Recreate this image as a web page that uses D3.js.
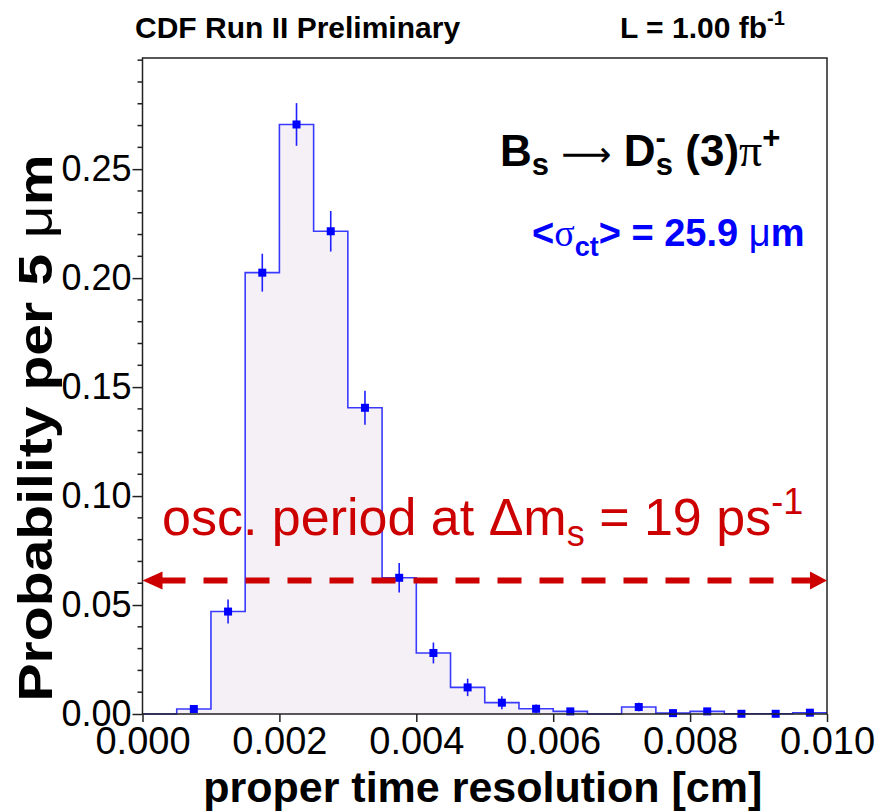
<!DOCTYPE html>
<html>
<head>
<meta charset="utf-8">
<script src="https://cdn.jsdelivr.net/npm/d3@7"></script>
<style>
  body { margin: 0; background: #fff; }
  text { font-family: "Liberation Sans", Arial, Helvetica, sans-serif; }
</style>
</head>
<body>
<div id="chart"></div>
<script>
// bins of 5 um (0.0005 cm) from 0 to 0.01 cm
var binStart = [0.0000, 0.0005, 0.0010, 0.0015, 0.0020, 0.0025, 0.0030, 0.0035, 0.0040, 0.0045,
                0.0050, 0.0055, 0.0060, 0.0065, 0.0070, 0.0075, 0.0080, 0.0085, 0.0090, 0.0095];
var binWidth = 0.0005;
var probability = [0, 0.0023, 0.047, 0.2025, 0.2705, 0.2215, 0.1405, 0.0625, 0.0280, 0.0122,
                   0.0052, 0.0024, 0.0012, 0, 0.0032, 0.0004, 0.0012, 0.0001, 0.0001, 0.0006];
var probError = [0, 0.0016, 0.0055, 0.0087, 0.0098, 0.0093, 0.0078, 0.0068, 0.0048, 0.0040,
                 0.0030, 0.0020, 0.0015, 0, 0.0020, 0.0010, 0.0015, 0.0008, 0.0008, 0.0010];
var xTicks = [0.000, 0.002, 0.004, 0.006, 0.008, 0.010];
var yTicks = [0.00, 0.05, 0.10, 0.15, 0.20, 0.25];
var yMinor = [0.01, 0.02, 0.03, 0.04, 0.06, 0.07, 0.08, 0.09, 0.11, 0.12, 0.13, 0.14,
              0.16, 0.17, 0.18, 0.19, 0.21, 0.22, 0.23, 0.24, 0.26, 0.27, 0.28, 0.29, 0.30];
var arrowLevel = 0.0612;

var W = 875, H = 811;
var margin = {top: 58, right: 48, bottom: 97, left: 142.5};

var svg = d3.select("#chart").append("svg")
    .attr("width", W).attr("height", H);

var x = d3.scaleLinear().domain([0, 0.01]).range([margin.left, W - margin.right]);
var y = d3.scaleLinear().domain([0, 0.301]).range([H - margin.bottom, margin.top]);

var bins = binStart.map(function(d, i) {
  return {x0: d, x1: d + binWidth, v: probability[i], e: probError[i]};
});

// histogram step outline
var pts = [[0, 0]];
bins.forEach(function(b) { pts.push([b.x0, b.v]); pts.push([b.x1, b.v]); });
pts.push([0.01, 0]);

var line = d3.line().x(function(d) { return x(d[0]); }).y(function(d) { return y(d[1]); });

svg.append("path")
  .attr("d", line(pts) + "Z")
  .attr("fill", "#f5f0f5")
  .attr("stroke", "none");

svg.append("path")
  .attr("d", line(pts.slice(1, pts.length - 1)))
  .attr("fill", "none")
  .attr("stroke", "#3a3aff")
  .attr("stroke-width", 1.6);

// error bars + markers
var pts2 = bins.filter(function(b) { return b.v > 0; });
svg.selectAll("line.err").data(pts2).enter().append("line")
  .attr("class", "err")
  .attr("x1", function(d) { return x((d.x0 + d.x1) / 2); })
  .attr("x2", function(d) { return x((d.x0 + d.x1) / 2); })
  .attr("y1", function(d) { return y(d.v + d.e); })
  .attr("y2", function(d) { return y(Math.max(d.v - d.e, 0)); })
  .attr("stroke", "#2020ff")
  .attr("stroke-width", 1.6);

svg.selectAll("rect.mk").data(pts2).enter().append("rect")
  .attr("class", "mk")
  .attr("x", function(d) { return x((d.x0 + d.x1) / 2) - 4; })
  .attr("y", function(d) { return y(d.v) - 4; })
  .attr("width", 8).attr("height", 8)
  .attr("fill", "#0000ff");

// frame
svg.append("rect")
  .attr("x", x(0)).attr("y", y(0.301))
  .attr("width", x(0.01) - x(0)).attr("height", y(0) - y(0.301))
  .attr("fill", "none").attr("stroke", "#222").attr("stroke-width", 1.5);

// y axis
var yAxis = svg.append("g").attr("transform", "translate(" + x(0) + ",0)")
  .call(d3.axisLeft(y).tickValues(yTicks).tickSize(10).tickFormat(d3.format(".2f")));
yAxis.select(".domain").remove();
yAxis.selectAll("text").attr("font-size", 36).attr("font-family", "Liberation Sans, Arial, sans-serif")
  .attr("fill", "#000").attr("x", -11);
yAxis.selectAll(".tick line").attr("stroke", "#222").attr("stroke-width", 1.5);

svg.append("g").selectAll("line").data(yMinor).enter().append("line")
  .attr("x1", x(0) - 5).attr("x2", x(0))
  .attr("y1", function(d) { return y(d); }).attr("y2", function(d) { return y(d); })
  .attr("stroke", "#222").attr("stroke-width", 1.5);

// x axis
var xAxis = svg.append("g").attr("transform", "translate(0," + y(0) + ")")
  .call(d3.axisBottom(x).tickValues(xTicks).tickSize(8).tickFormat(d3.format(".3f")));
xAxis.select(".domain").remove();
xAxis.selectAll("text").attr("font-size", 38).attr("font-family", "Liberation Sans, Arial, sans-serif")
  .attr("fill", "#000").attr("y", 6).attr("dy", "0.9em");
xAxis.selectAll(".tick line").attr("stroke", "#222").attr("stroke-width", 1.5);

// axis titles
svg.append("text")
  .attr("x", (x(0) + x(0.01)) / 2 - 2).attr("y", 802)
  .attr("text-anchor", "middle")
  .attr("font-size", 43).attr("font-weight", "bold")
  .text("proper time resolution [cm]");

var yt = svg.append("text")
  .attr("transform", "translate(52,428) rotate(-90) scale(1.19,1)")
  .attr("text-anchor", "middle")
  .attr("font-size", 48).attr("font-weight", "bold");
yt.append("tspan").text("Probability per 5 ");
yt.append("tspan").attr("font-weight", "normal").text("\u03bc");
yt.append("tspan").text("m");

// header
svg.append("text").attr("x", 135).attr("y", 38)
  .attr("font-size", 30).attr("font-weight", "bold")
  .text("CDF Run II Preliminary");
var lt = svg.append("text").attr("x", 620).attr("y", 38)
  .attr("font-size", 30).attr("font-weight", "bold");
lt.append("tspan").text("L = 1.00 fb");
lt.append("tspan").attr("font-size", 20).attr("dy", -13).text("-1");

// decay label
var dl = svg.append("text").attr("x", 500).attr("y", 166)
  .attr("font-size", 44).attr("font-weight", "bold");
dl.append("tspan").text("B");
dl.append("tspan").attr("font-size", 31).attr("dy", 9).text("s");
dl.append("tspan").attr("dy", -9).text(" ");
dl.append("tspan").attr("font-weight", "normal").attr("font-family", "DejaVu Sans")
  .attr("font-size", 35).text("\u27f6");
dl.append("tspan").text(" D");
dl.append("tspan").attr("font-size", 31).attr("dy", -18).text("-");
dl.append("tspan").attr("font-size", 31).attr("dx", -10).attr("dy", 27).text("s");
dl.append("tspan").attr("dy", -9).text(" (3)");
dl.append("tspan").attr("font-weight", "normal").attr("font-family", "Liberation Serif")
  .attr("font-size", 46).text("\u03c0");
dl.append("tspan").attr("font-size", 31).attr("dy", -18).text("+");

var sg = svg.append("text").attr("x", 532).attr("y", 246)
  .attr("font-size", 38).attr("font-weight", "bold").attr("fill", "#0000ff");
sg.append("tspan").text("<");
sg.append("tspan").attr("font-weight", "normal").attr("font-family", "Liberation Serif").text("\u03c3");
sg.append("tspan").attr("font-size", 27).attr("dy", 10).text("ct");
sg.append("tspan").attr("dy", -10).text("> = 25.9 ");
sg.append("tspan").attr("font-weight", "normal").text("\u03bc");
sg.append("tspan").text("m");

// oscillation period annotation
var osc = svg.append("text").attr("x", 162).attr("y", 535)
  .attr("font-size", 52).attr("fill", "#cc0000");
osc.append("tspan").text("osc. period at \u0394m");
osc.append("tspan").attr("font-size", 36).attr("dy", 11).text("s");
osc.append("tspan").attr("dy", -11).text(" = 19 ps");
osc.append("tspan").attr("font-size", 36).attr("dy", -21).text("-1");

var ay = y(arrowLevel);
svg.append("line")
  .attr("x1", x(0) + 19).attr("x2", x(0.01) - 15)
  .attr("y1", ay).attr("y2", ay)
  .attr("stroke", "#cc0000").attr("stroke-width", 6)
  .attr("stroke-dasharray", "24 18");
svg.append("path")
  .attr("d", d3.line()([[x(0), ay], [x(0) + 20, ay - 9], [x(0) + 20, ay + 9]]) + "Z")
  .attr("fill", "#cc0000");
svg.append("path")
  .attr("d", d3.line()([[x(0.01), ay], [x(0.01) - 17, ay - 9], [x(0.01) - 17, ay + 9]]) + "Z")
  .attr("fill", "#cc0000");
</script>
</body>
</html>
